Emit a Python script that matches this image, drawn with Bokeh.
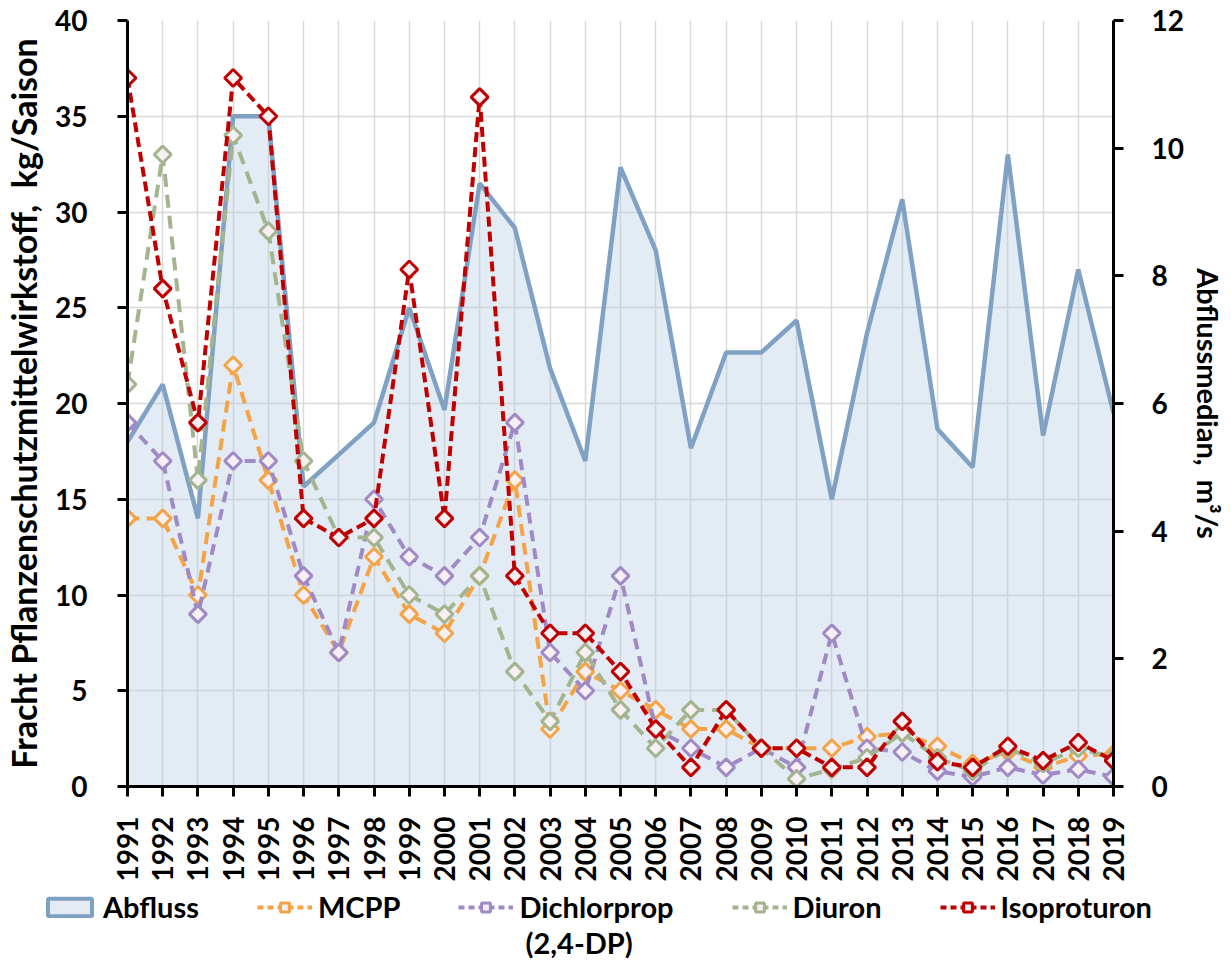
import math
from bokeh.plotting import figure
from bokeh.models import (Range1d, LinearAxis, FixedTicker, Legend, LegendItem, Label)
from bokeh.embed import file_html
from bokeh.resources import INLINE

years = list(range(1991, 2020))
abfluss = [5.4, 6.3, 4.2, 10.5, 10.5, 4.7, 5.2, 5.7, 7.5, 5.9, 9.45, 8.75, 6.55, 5.1, 9.7,
           8.4, 5.3, 6.8, 6.8, 7.3, 4.5, 7.1, 9.2, 5.6, 5.0, 9.9, 5.5, 8.1, 5.85]
mcpp = [14, 14, 10, 22, 16, 10, 7, 12, 9, 8, 11, 16, 3, 6, 5, 4, 3, 3, 2, 2, 2, 2.6, 2.8,
        2.1, 1.2, 1.8, 1.0, 1.6, 1.7]
dichlorprop = [19, 17, 9, 17, 17, 11, 7, 15, 12, 11, 13, 19, 7, 5, 11, 3, 2, 1, 2, 1, 8, 2,
               1.8, 0.8, 0.5, 1.0, 0.6, 0.9, 0.5]
diuron = [21, 33, 16, 34, 29, 17, 13, 13, 10, 9, 11, 6, 3.4, 7, 4, 2, 4, 4, 2, 0.4, 0.9, 1.5,
          2.8, 1.5, 0.8, 2.0, 1.2, 2.0, 1.5]
isoproturon = [37, 26, 19, 37, 35, 14, 13, 14, 27, 14, 36, 11, 8, 8, 6, 3, 1, 4, 2, 2, 1, 1,
               3.4, 1.3, 1.0, 2.1, 1.35, 2.3, 1.35]

left_ticks = [0, 5, 10, 15, 20, 25, 30, 35, 40]
right_ticks = [0, 2, 4, 6, 8, 10, 12]

FONT = "Lato"
W = 1229
NAN = float("nan")

p = figure(width=W, height=886, output_backend="svg", toolbar_location=None,
           x_range=Range1d(1991, 2019), y_range=Range1d(0, 40),
           min_border_left=127, min_border_right=W - 1113, min_border_top=20,
           min_border_bottom=100)
p.outline_line_color = None
p.extra_y_ranges = {"q": Range1d(0, 12)}

# grid
p.xgrid.ticker = FixedTicker(ticks=years)
p.ygrid.ticker = FixedTicker(ticks=left_ticks)
for g in (p.xgrid, p.ygrid):
    g.grid_line_color = "#d9d9d9"
    g.grid_line_width = 1.5

# area (Abfluss)
p.varea(x=years, y1=[0] * len(years), y2=abfluss, y_range_name="q",
        fill_color="#b8cce4", fill_alpha=0.4)
p.line(years, abfluss, y_range_name="q", line_color="#7ea1c4", line_width=4.5)

series = [
    ("MCPP", mcpp, "#f4a446", "12 7"),
    ("Dichlorprop", dichlorprop, "#a08ac6", "11 7"),
    ("Diuron", diuron, "#a3b48f", "13 8"),
    ("Isoproturon", isoproturon, "#c00000", "10 5"),
]
for name, vals, col, dash in series:
    p.line(years, vals, line_color=col, line_width=4, line_dash=dash)
    p.scatter(years, vals, marker="square", angle=math.pi / 4, size=12,
              fill_color="#f6eff4", line_color=col, line_width=3)

# axes
def style_axis(ax, font_size="28px"):
    ax.axis_line_color = "black"
    ax.axis_line_width = 3
    ax.major_tick_line_color = "black"
    ax.major_tick_line_width = 3
    ax.major_tick_out = 10
    ax.major_tick_in = 0
    ax.minor_tick_line_color = None
    ax.major_label_text_font = FONT
    ax.major_label_text_font_style = "bold"
    ax.major_label_text_font_size = font_size
    ax.major_label_text_color = "black"
    ax.axis_label_text_font = FONT
    ax.axis_label_text_font_style = "bold"
    ax.axis_label_text_color = "black"

xa = p.xaxis[0]
style_axis(xa)
xa.ticker = FixedTicker(ticks=years)
xa.major_label_orientation = math.pi / 2
xa.major_label_standoff = 20

ya = p.yaxis[0]
style_axis(ya)
ya.ticker = FixedTicker(ticks=left_ticks)
ya.major_label_standoff = 30
ya.axis_label = "Fracht Pflanzenschutzmittelwirkstoff, \u00a0kg/Saison"
ya.axis_label_text_font_size = "34px"
ya.axis_label_standoff = 8

ra = LinearAxis(y_range_name="q", ticker=FixedTicker(ticks=right_ticks))
style_axis(ra)
ra.major_label_standoff = 28
ra.axis_label = "Abflussmedian, \u00a0m³/s"
ra.axis_label_text_font_size = "29px"
ra.axis_label_standoff = 4
p.add_layout(ra, "right")

# legend strip (separate root so that its frame spans the full width)
H2 = 76
p2 = figure(width=W, height=H2, output_backend="svg", toolbar_location=None,
            x_range=Range1d(0, 1), y_range=Range1d(0, 1),
            x_axis_location=None, y_axis_location=None, min_border=0)
p2.outline_line_color = None
p2.grid.visible = False

dq = p2.quad(left=[NAN], right=[NAN], bottom=[NAN], top=[NAN],
             fill_color="#e4ebf4", line_color="#7ea1c4", line_width=4)
items = [LegendItem(label="Abfluss", renderers=[dq])]
for name, vals, col, dash in series:
    l = p2.line([NAN, NAN], [NAN, NAN], line_color=col, line_width=4, line_dash="6 4")
    s = p2.scatter([NAN], [NAN], marker="square", angle=math.pi / 4, size=12,
                   fill_color="#f6eff4", line_color=col, line_width=3)
    items.append(LegendItem(label=name, renderers=[l, s]))

legend = Legend(items=items, orientation="horizontal", location=(42, 38),
                glyph_width=55, glyph_height=22, label_standoff=6, spacing=58,
                label_height=30, padding=0, margin=0,
                border_line_alpha=0, background_fill_alpha=0,
                label_text_font=FONT, label_text_font_style="bold",
                label_text_font_size="29px", label_text_color="black")
p2.add_layout(legend)

p2.add_layout(Label(x=525, y=20, x_units="screen", y_units="screen", text="(2,4-DP)",
                    text_font=FONT, text_font_style="bold", text_font_size="29px",
                    text_baseline="middle", text_color="black"))

open("out.html", "w").write(file_html((p, p2), INLINE))
